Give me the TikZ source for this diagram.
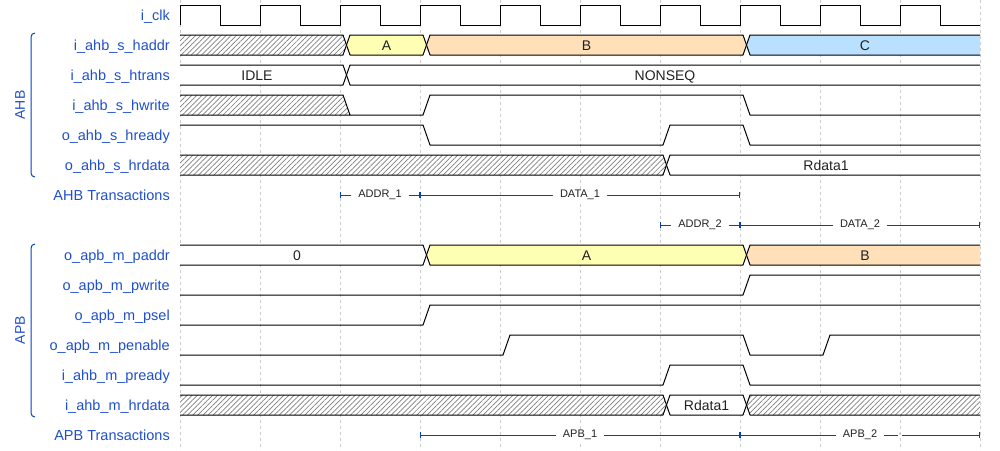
\documentclass[tikz,border=0pt]{standalone}
\usepackage{fontspec}
\setmainfont{Liberation Sans}
\usetikzlibrary{arrows.meta,patterns.meta}
\definecolor{ink}{HTML}{222222}
\definecolor{sigblue}{HTML}{1F4FCB}
\definecolor{arrowblue}{HTML}{0041C4}
\definecolor{gridgray}{HTML}{CCCCCC}
\definecolor{hatchgray}{HTML}{808080}
\definecolor{busA}{HTML}{FFFFB4}
\definecolor{busB}{HTML}{FFE0B9}
\definecolor{busC}{HTML}{B9E0FF}
\tikzset{
  sig/.style={anchor=base east,inner sep=0pt,text=sigblue,font=\fontsize{14.5}{17}\selectfont},
  grp/.style={rotate=90,inner sep=0pt,text=sigblue,font=\fontsize{14}{17}\selectfont},
  brace/.style={draw=arrowblue,line width=1pt,rounded corners=4pt},
  gridline/.style={draw=gridgray,line width=0.8pt,dash pattern=on 3pt off 3pt},
  wave/.style={draw=black,line width=1pt,line join=round},
  bus/.style={wave,fill=#1},
  hatch/.style={wave,preaction={fill=white},pattern={Lines[angle=45,distance=3.6pt,line width=0.7pt]},pattern color=hatchgray},
  val/.style={anchor=base,inner sep=0pt,text=ink,font=\fontsize{14}{16}\selectfont},
  span/.style={{Bar[width=6pt]}-{Bar[width=6pt]},draw=arrowblue,line width=1pt},
  spanlbl/.style={fill=white,inner xsep=7pt,inner ysep=1pt,text=ink,font=\fontsize{11}{13}\selectfont}
}

\begin{document}
\begin{tikzpicture}[x=1pt,y=-1pt]
    \useasboundingbox (0,0) rectangle (1000,450);
    \foreach \t in {180,260,...,980} \draw[gridline] (\t,0) -- (\t,450);

    % signal names
    \node[sig] (lclk) at (170,20.5) {i\_clk};
    \node[sig] (lhaddr) at (170,50.5) {i\_ahb\_s\_haddr};
    \node[sig] (lhtrans) at (170,80.5) {i\_ahb\_s\_htrans};
    \node[sig] (lhwrite) at (170,110.5) {i\_ahb\_s\_hwrite};
    \node[sig] (lhready) at (170,140.5) {o\_ahb\_s\_hready};
    \node[sig] (lhrdata) at (170,170.5) {o\_ahb\_s\_hrdata};
    \node[sig] (lahbtr) at (170,200.5) {AHB Transactions};
    \node[sig] (lpaddr) at (170,260.5) {o\_apb\_m\_paddr};
    \node[sig] (lpwrite) at (170,290.5) {o\_apb\_m\_pwrite};
    \node[sig] (lpsel) at (170,320.5) {o\_apb\_m\_psel};
    \node[sig] (lpenable) at (170,350.5) {o\_apb\_m\_penable};
    \node[sig] (lpready) at (170,380.5) {i\_ahb\_m\_pready};
    \node[sig] (lmhrdata) at (170,410.5) {i\_ahb\_m\_hrdata};
    \node[sig] (lapbtr) at (170,440.5) {APB Transactions};

    % groups
    \draw[brace] (35,33) -- (31,33) -- (31,177) -- (35,177);
    \node[grp] (ahb) at (20,105) {AHB};
    \draw[brace] (35,244) -- (31,244) -- (31,417) -- (35,417);
    \node[grp] (apb) at (20,330) {APB};

    % AHB side
    \draw[wave] (180,25) \foreach \t in {180,260,...,900} { -- (\t,5) -- (\t+40,5) -- (\t+40,25) -- (\t+80,25) };

    \path[hatch] (180,35) -- (343,35) -- (346.5,45) -- (343,55) -- (180,55);
    \path[bus=busA] (350,35) -- (423,35) -- (426.5,45) -- (423,55) -- (350,55) -- (346.5,45) -- cycle;
    \path[bus=busB] (430,35) -- (743,35) -- (746.5,45) -- (743,55) -- (430,55) -- (426.5,45) -- cycle;
    \path[bus=busC] (980,35) -- (750,35) -- (746.5,45) -- (750,55) -- (980,55);
    \node[val] (haddrA) at (386.5,50) {A};
    \node[val] (haddrB) at (586.5,50) {B};
    \node[val] (haddrC) at (865,50) {C};

    \path[bus=white] (180,65) -- (343,65) -- (346.5,75) -- (343,85) -- (180,85);
    \path[bus=white] (980,65) -- (350,65) -- (346.5,75) -- (350,85) -- (980,85);
    \node[val] (idle) at (257,80) {IDLE};
    \node[val] (nonseq) at (665,80) {NONSEQ};

    \path[hatch] (180,95) -- (343,95) -- (350,115) -- (180,115);
    \draw[wave] (350,115) -- (423,115) -- (430,95) -- (743,95) -- (750,115) -- (980,115);

    \draw[wave] (180,125) -- (423,125) -- (430,145) -- (663,145) -- (670,125) -- (743,125) -- (750,145) -- (980,145);

    \path[hatch] (180,155) -- (663,155) -- (666.5,165) -- (663,175) -- (180,175);
    \path[bus=white] (980,155) -- (670,155) -- (666.5,165) -- (670,175) -- (980,175);
    \node[val] (rdata1) at (826,170) {Rdata1};

    \coordinate (t1s) at (340,195);
    \coordinate (t1m) at (420,195);
    \coordinate (t1e) at (740,195);
    \draw[span] (t1s) -- node[spanlbl] (addr1) {ADDR\_1} (t1m);
    \draw[span] (t1m) -- node[spanlbl] (data1) {DATA\_1} (t1e);
    \coordinate (t2s) at (660,225);
    \coordinate (t2m) at (740,225);
    \coordinate (t2e) at (980,225);
    \draw[span] (t2s) -- node[spanlbl] (addr2) {ADDR\_2} (t2m);
    \draw[span] (t2m) -- node[spanlbl] (data2) {DATA\_2} (t2e);

    % APB side
    \path[bus=white] (180,245) -- (423,245) -- (426.5,255) -- (423,265) -- (180,265);
    \path[bus=busA] (430,245) -- (743,245) -- (746.5,255) -- (743,265) -- (430,265) -- (426.5,255) -- cycle;
    \path[bus=busB] (980,245) -- (750,245) -- (746.5,255) -- (750,265) -- (980,265);
    \node[val] (paddr0) at (297,260) {0};
    \node[val] (paddrA) at (586.5,260) {A};
    \node[val] (paddrB) at (865,260) {B};

    \draw[wave] (180,295) -- (743,295) -- (750,275) -- (980,275);
    \draw[wave] (180,325) -- (423,325) -- (430,305) -- (980,305);
    \draw[wave] (180,355) -- (503,355) -- (510,335) -- (743,335) -- (750,355) -- (823,355) -- (830,335) -- (980,335);
    \draw[wave] (180,385) -- (663,385) -- (670,365) -- (743,365) -- (750,385) -- (980,385);

    \path[hatch] (180,395) -- (663,395) -- (666.5,405) -- (663,415) -- (180,415);
    \path[bus=white] (670,395) -- (743,395) -- (746.5,405) -- (743,415) -- (670,415) -- (666.5,405) -- cycle;
    \path[hatch] (980,395) -- (750,395) -- (746.5,405) -- (750,415) -- (980,415);
    \node[val] (rdata1b) at (706.5,410) {Rdata1};

    \coordinate (t3s) at (420,435);
    \coordinate (t3m) at (740,435);
    \coordinate (t3e) at (980,435);
    \draw[span] (t3s) -- node[spanlbl] (apb1) {APB\_1} (t3m);
    \draw[span] (t3m) -- node[spanlbl] (apb2) {APB\_2} (t3e);
    \node[spanlbl,inner xsep=1.5pt,font=\fontsize{7}{8}\selectfont] (apbdot) at (900,435) {,};
  \end{tikzpicture}
\end{document}
